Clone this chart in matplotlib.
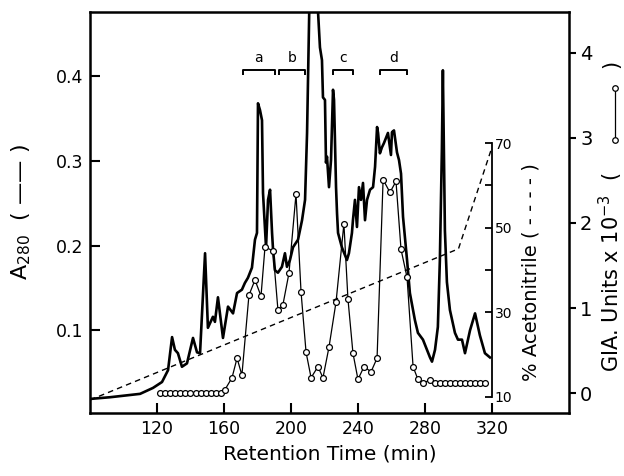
import matplotlib
matplotlib.use("Agg")
import matplotlib.pyplot as plt
from matplotlib.lines import Line2D

plt.rcParams['font.family'] = ['DejaVu Sans']

# ---------------- data ----------------
a280_time = [80.0, 91.9, 109.9, 117.6, 123.0, 126.6, 129.0, 130.7, 132.5, 134.9,
             137.9, 141.5, 143.9, 145.7, 148.7, 150.4, 153.4, 154.6, 156.4, 159.4,
             162.4, 165.4, 167.8, 170.7, 172.5, 174.3, 176.7, 178.5, 179.7, 180.3,
             181.5, 182.7, 183.3, 185.1, 186.3, 187.5, 188.7, 189.3, 190.4, 192.2,
             194.6, 196.4, 197.6, 199.4, 201.2, 204.2, 206.6, 208.4, 209.6, 211.3,
             213.7, 215.5, 217.3, 218.5, 219.1, 220.3, 220.9, 221.5, 222.7, 223.9,
             225.1, 225.7, 226.9, 227.5, 228.1, 230.4, 232.2, 233.4, 234.6, 236.4,
             237.0, 238.2, 239.4, 240.6, 241.8, 243.0, 244.2, 245.4, 247.2, 249.0,
             250.2, 251.4, 252.0, 253.1, 254.3, 255.5, 257.9, 259.7, 260.3, 261.5,
             263.3, 264.5, 265.7, 266.9, 269.3, 271.0, 274.0, 275.8, 278.8, 283.0,
             284.2, 286.0, 287.7, 288.9, 290.1, 290.7, 291.3, 291.9, 293.1, 294.9,
             297.9, 299.7, 302.1, 303.9, 306.9, 309.9, 312.8, 315.8, 318.8]
a280_value = [0.019, 0.021, 0.025, 0.032, 0.039, 0.053, 0.092, 0.077, 0.073, 0.057,
              0.061, 0.091, 0.074, 0.073, 0.191, 0.103, 0.116, 0.110, 0.139, 0.091,
              0.128, 0.120, 0.144, 0.148, 0.156, 0.162, 0.174, 0.207, 0.215, 0.368,
              0.360, 0.348, 0.262, 0.198, 0.254, 0.266, 0.215, 0.195, 0.171, 0.168,
              0.175, 0.191, 0.175, 0.183, 0.198, 0.207, 0.230, 0.254, 0.333, 0.520,
              0.560, 0.500, 0.434, 0.419, 0.375, 0.372, 0.298, 0.305, 0.269, 0.301,
              0.384, 0.372, 0.269, 0.238, 0.215, 0.198, 0.189, 0.183, 0.191, 0.215,
              0.230, 0.254, 0.222, 0.269, 0.254, 0.274, 0.230, 0.254, 0.266, 0.269,
              0.293, 0.340, 0.333, 0.309, 0.316, 0.321, 0.333, 0.307, 0.334, 0.336,
              0.310, 0.301, 0.285, 0.234, 0.183, 0.144, 0.112, 0.097, 0.089, 0.068,
              0.063, 0.077, 0.104, 0.183, 0.313, 0.407, 0.313, 0.218, 0.157, 0.124,
              0.097, 0.089, 0.089, 0.073, 0.100, 0.120, 0.094, 0.073, 0.068]

gia_time = [122, 125, 128, 131, 134, 137, 140, 143, 146, 149, 152, 155, 158,
            160.6, 164.8, 167.8, 170.7, 174.9, 178.5, 182.1, 184.5, 189.3, 192.2,
            195.2, 198.8, 203.0, 206.0, 209.0, 212.0, 216.1, 219.1, 222.7, 226.9,
            231.6, 234.0, 237.0, 240.0, 243.6, 247.8, 251.4, 255.0, 259.1, 262.7,
            265.7, 269.3, 272.9, 275.8, 278.8, 283.0, 286.0, 289, 292, 295, 298,
            301, 304, 307, 310, 313, 316]
gia_value = [0, 0, 0, 0, 0, 0, 0, 0, 0, 0, 0, 0, 0,
             0.04, 0.18, 0.41, 0.21, 1.15, 1.33, 1.14, 1.72, 1.67, 0.98,
             1.04, 1.41, 2.34, 1.19, 0.48, 0.18, 0.31, 0.18, 0.54, 1.07,
             1.99, 1.11, 0.47, 0.16, 0.31, 0.25, 0.41, 2.51, 2.36, 2.49,
             1.69, 1.36, 0.31, 0.16, 0.12, 0.15, 0.12, 0.12, 0.12, 0.12, 0.12,
             0.12, 0.12, 0.12, 0.12, 0.12, 0.12]

acn_time = [80, 300, 320]
acn_value = [9.3, 45.0, 69.0]

pool_labels = ['a', 'b', 'c', 'd']
pool_start = [171.3, 192.8, 225.1, 253.1]
pool_end = [190.4, 208.4, 237.0, 269.3]

x_ticks = [120, 160, 200, 240, 280, 320]
a280_ticks = [0.1, 0.2, 0.3, 0.4]
gia_ticks = [0, 1, 2, 3, 4]
acn_ticks = [10, 30, 40, 50, 60, 70]
acn_ticklabels = ['10', '30', '', '50', '', '70']

# ---------------- figure ----------------
W, H = 624, 476
fig = plt.figure(figsize=(W / 100, H / 100), dpi=100)
L, R, B, T = 90, 569, 413, 12
ax = fig.add_axes([L / W, 1 - B / H, (R - L) / W, (B - T) / H])
ax2 = ax.twinx()
ax3 = ax.twinx()

ax.set_xlim(80, 366)
ax.set_ylim(0.0024, 0.4758)
ax2.set_ylim(-0.235, 4.482)
ax3.set_ylim(6.22, 100.95)

# A280 trace
ax.plot(a280_time, a280_value, color='black', lw=1.9, solid_joinstyle='round', zorder=3)

# GIA activity
ax2.plot(gia_time, gia_value, color='black', lw=0.9, marker='o', ms=4.2,
         mfc='white', mec='black', mew=0.9, zorder=4)

# acetonitrile gradient
ax3.plot(acn_time, acn_value, color='black', lw=1.0, ls=(0, (4, 3)))

# brackets
by = 0.407
for lab, s, e in zip(pool_labels, pool_start, pool_end):
    ax.plot([s, s, e, e], [by - 0.005, by, by, by - 0.005], color='black', lw=1.4,
            solid_capstyle='butt')
    ax.text((s + e) / 2, by + 0.006, lab, ha='center', va='bottom', fontsize=10)

# spines / ticks
for sp in ax.spines.values():
    sp.set_linewidth(1.8)
ax.set_xticks(x_ticks)
ax.set_xticklabels([str(v) for v in x_ticks])
ax.set_yticks(a280_ticks)
ax.set_yticklabels(['0.1', '0.2', '0.3', '0.4'])
ax.tick_params(axis='both', direction='in', length=7, width=1.5, labelsize=12.5, pad=5)
ax.set_xlabel('Retention Time (min)', fontsize=14.5, labelpad=5)
ax.set_ylabel('A$_{280}$  ( —— )', fontsize=16, labelpad=16)

for sp in ax2.spines.values():
    sp.set_visible(False)
ax2.set_yticks(gia_ticks)
ax2.set_yticklabels([str(v) for v in gia_ticks])
ax2.tick_params(axis='y', direction='out', length=5, width=1.5, labelsize=14, pad=3)

for name, sp in ax3.spines.items():
    sp.set_visible(name == 'right')
ax3.spines['right'].set_position(('data', 320))
ax3.spines['right'].set_bounds(10, 70)
ax3.spines['right'].set_linewidth(1.3)
ax3.set_yticks(acn_ticks)
ax3.set_yticklabels(acn_ticklabels)
ax3.tick_params(axis='y', direction='in', length=5, width=1.3, labelsize=10, pad=2)

fig.text(531 / W, 1 - 272 / H, '% Acetonitrile ( - - - - )', rotation=90,
         ha='center', va='center', fontsize=14)

# GIA axis label with line/marker glyph
fig.text(611 / W, 1 - 372 / H, 'GIA. Units x 10$^{-3}$  (', rotation=90,
         ha='center', va='bottom', fontsize=15)
fig.text(611 / W, 1 - 60 / H, ')', rotation=90, ha='center', va='top', fontsize=15)
fig.add_artist(Line2D([615 / W, 615 / W], [1 - 140 / H, 1 - 88 / H],
                      transform=fig.transFigure, color='black', lw=0.9,
                      marker='o', ms=4, mfc='white', mec='black', mew=0.9))

fig.savefig('out.png', dpi=100)
